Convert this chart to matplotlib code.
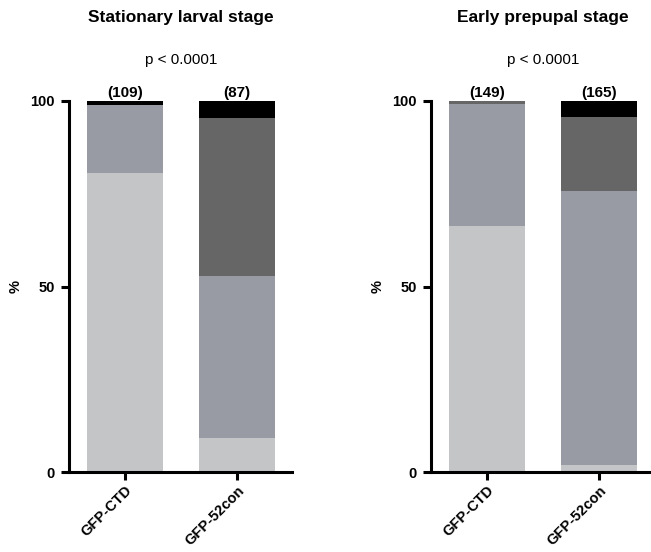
import matplotlib
matplotlib.use("Agg")
import matplotlib.pyplot as plt
import matplotlib.transforms as mtransforms

plt.rcParams['font.family'] = ['Liberation Sans', 'DejaVu Sans']

genotypes = ["GFP-CTD", "GFP-52con"]

# Percent of animals in each phenotype class (stacked bottom to top)
stationary_light = [80.7, 9.2]
stationary_mid = [18.3, 43.7]
stationary_dark = [0.0, 42.5]
stationary_black = [1.0, 4.6]
stationary_n = ["(109)", "(87)"]

prepupal_light = [66.4, 1.8]
prepupal_mid = [32.9, 74.0]
prepupal_dark = [0.7, 20.0]
prepupal_black = [0.0, 4.2]
prepupal_n = ["(149)", "(165)"]

titles = ["Stationary larval stage", "Early prepupal stage"]
p_values = ["p < 0.0001", "p < 0.0001"]

colors = ["#c4c5c7", "#989ba3", "#666666", "#000000"]

W, H = 651, 552
fig = plt.figure(figsize=(W / 100, H / 100), dpi=100)

panels = [
    (69, [stationary_light, stationary_mid, stationary_dark, stationary_black], stationary_n),
    (431, [prepupal_light, prepupal_mid, prepupal_dark, prepupal_black], prepupal_n),
]

for i, (left_px, layers, counts) in enumerate(panels):
    ax = fig.add_axes([left_px / W, (H - 472) / H, 223 / W, 371 / H])
    x = list(range(len(genotypes)))
    bottom = [0.0] * len(genotypes)
    for vals, c in zip(layers, colors):
        ax.bar(x, vals, width=0.68, bottom=bottom, color=c, linewidth=0, zorder=2)
        bottom = [b + v for b, v in zip(bottom, vals)]

    ax.set_xlim(-0.5, 1.49)
    ax.set_ylim(0, 100)
    ax.set_yticks([0, 50, 100])
    ax.set_yticklabels(["0", "50", "100"], fontweight="bold", fontsize=10.5)
    ax.set_xticks(x)
    ax.set_xticklabels(genotypes, rotation=45, ha="right", rotation_mode="anchor",
                       fontweight="bold", fontsize=10.5)
    ax.tick_params(axis="both", direction="out", length=6, width=2.2, pad=2)
    ax.tick_params(axis="y", pad=4)
    for side in ["top", "right"]:
        ax.spines[side].set_visible(False)
    for side in ["left", "bottom"]:
        ax.spines[side].set_linewidth(2.2)
        ax.spines[side].set_zorder(3)
    ax.set_ylabel("%", fontweight="bold", fontsize=10.5, labelpad=6)

    trans = mtransforms.blended_transform_factory(ax.transData, ax.transAxes)
    for xi, n in zip(x, counts):
        ax.text(xi, 1.004, n, transform=trans, ha="center", va="bottom",
                fontweight="bold", fontsize=11)
    ax.text(0.5, 1.11, p_values[i], transform=trans, ha="center", va="center", fontsize=11)
    ax.text(0.5, 1.224, titles[i], transform=trans, ha="center", va="center",
            fontweight="bold", fontsize=12.5)

fig.savefig("out.png", dpi=100)
